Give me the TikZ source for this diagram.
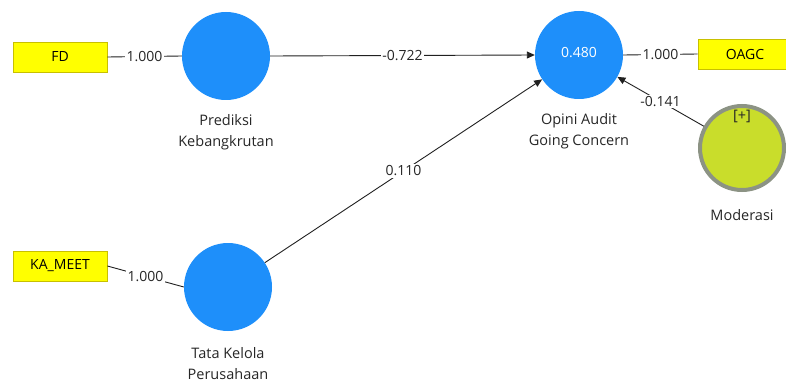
\documentclass[tikz,border=0pt]{standalone}
\usepackage{fontspec}
\setmainfont{Open Sans}
\usetikzlibrary{arrows.meta}
\definecolor{lvblue}{HTML}{1E8FFA}
\definecolor{indyel}{HTML}{FFFF00}
\definecolor{indbord}{HTML}{C8C000}
\definecolor{modfill}{HTML}{C9DD2B}
\definecolor{modbord}{HTML}{8C9384}
\definecolor{linec}{HTML}{202020}
\tikzset{
  latent/.style={circle, fill=lvblue, minimum size=88pt, inner sep=0pt},
  modlat/.style={circle, fill=modfill, draw=modbord, line width=4pt, minimum size=84pt, inner sep=0pt},
  indbox/.style={rectangle, fill=indyel, draw=indbord, line width=0.8pt, minimum width=94pt, minimum height=30pt, font=\fontsize{14}{16}\selectfont},
  lbl/.style={font=\fontsize{14.5}{21}\selectfont, align=center, text=black!85},
  wt/.style={fill=white, inner sep=1.5pt, font=\fontsize{14}{16}\selectfont, text=black!85},
  conn/.style={draw=linec, line width=0.9pt},
  arr/.style={conn, -{Triangle[length=8pt,width=7pt]}}
}
\begin{document}
\begin{tikzpicture}[x=1pt,y=-1pt]
\useasboundingbox (0,0) rectangle (786,385);
% indicators
\node[indbox] (fd) at (60,57) {FD};
\node[indbox] (ka) at (60,266) {KA\_MEET};
\node[indbox] (oagc) at (745,54) {OAGC};
% latent variables
\node[latent] (pk) at (226,56) {};
\node[latent] (tk) at (228,287) {};
\node[latent, text=white, font=\fontsize{14}{16}\selectfont] (oa) at (579,55) {\raisebox{5pt}{0.480}};
\node[modlat] (mod) at (742,148) {};
\node[lbl, anchor=north] (modplus) at (742,107) {[+]};
% labels
\node[lbl] (pkl) at (226,132) {Prediksi\\Kebangkrutan};
\node[lbl] (tkl) at (228,364) {Tata Kelola\\Perusahaan};
\node[lbl] (oal) at (579,131) {Opini Audit\\Going Concern};
\node[lbl] (modl) at (742,215) {Moderasi};
% outer loadings
\draw[conn] (fd.east) -- node[wt] {1.000} (pk.west);
\draw[conn] (ka.east) -- node[wt, pos=0.5] {1.000} (tk.west);
\draw[conn] (oa.east) -- node[wt] {1.000} (oagc.west);
% paths
\draw[arr] (pk.east) -- node[wt] {-0.722} (oa.west);
\draw[arr] (tk) -- node[wt, pos=0.5] {0.110} (oa);
\draw[arr] (mod) -- node[wt, pos=0.5] {-0.141} (oa);
\end{tikzpicture}
\end{document}
